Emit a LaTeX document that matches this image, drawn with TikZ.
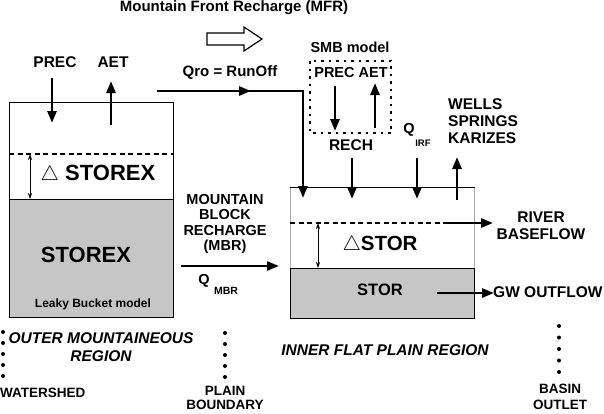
\documentclass[tikz,border=0pt]{standalone}
\usepackage{fontspec}
\setmainfont{Liberation Sans}
\usetikzlibrary{arrows.meta}
\definecolor{grayfill}{RGB}{198,198,198}
\definecolor{sidegray}{RGB}{170,170,170}
\begin{document}
\begin{tikzpicture}[x=1pt,y=-1pt,
  txt/.style={inner sep=0pt, align=center, font=\bfseries\fontsize{#1}{#1}\selectfont},
  txt/.default=14,
  itxt/.style={inner sep=0pt, align=center, font=\bfseries\itshape\fontsize{15.5}{17.5}\selectfont},
  flow/.style={line width=2.6pt, -{Triangle[length=12pt,width=9pt]}},
  dbl/.style={line width=0.8pt, {Stealth[length=6pt,width=4pt]}-{Stealth[length=6pt,width=4pt]}},
  grayblock/.style={fill=grayfill, draw=black, line width=1pt},
  dashline/.style={line width=1.2pt, dash pattern=on 5pt off 3.5pt},
  dotbox/.style={line width=2.6pt, dash pattern=on 2.5pt off 5pt},
  bdot/.style={fill=black},
]
\useasboundingbox (0,0) rectangle (604,413);

% ---------- left bucket ----------
\fill[grayfill] (9,199) rectangle (173,317);
\draw[line width=1pt] (9,102) rectangle (173,317);
\draw[line width=1pt] (9,199) -- (173,199);
\draw[dashline] (9,154) -- (173,154);
\coordinate (lt) at (30,154);
\coordinate (lb) at (30,199);
\draw[dbl] (lt) -- (lb);

\node[txt=15.5] (prec) at (55,62) {PREC};
\node[txt=15.5] (aet) at (113,62) {AET};
\coordinate (precA) at (52,78);
\coordinate (precB) at (52,123);
\draw[flow] (precA) -- (precB);
\coordinate (aetA) at (111,125);
\coordinate (aetB) at (111,81);
\draw[flow] (aetA) -- (aetB);

\node[txt=22] (dstorex) at (98,175) {$\triangle$ STOREX};
\node[txt=22] (storex) at (86,255) {STOREX};
\node[txt=12] (leaky) at (93,304) {Leaky Bucket model};

% ---------- MFR ----------
\node[txt=15] (mfr) at (234,8) {Mountain Front Recharge (MFR)};
\draw[line width=1.2pt, line join=miter] (207,33) -- (244,33) -- (244,27) -- (262,39) -- (244,51) -- (244,45) -- (207,45) -- cycle;

% ---------- runoff ----------
\node[txt=15] (qro) at (230,73) {Qro = RunOff};
\coordinate (roA) at (157,91);
\coordinate (roM) at (251,91);
\coordinate (roC) at (303,91);
\coordinate (roB) at (303,198);
\draw[flow] (roA) -- (roM);
\draw[flow] (240,91) -- (roC) -- (roB);

% ---------- SMB model ----------
\node[txt=14.5] (smb) at (350,47) {SMB model};
\draw[dotbox] (310,61) rectangle (391,133);
\node[txt=14.5] (smbpa) at (351,73) {PREC AET};
\coordinate (smbA) at (335,86);
\coordinate (smbB) at (335,131);
\draw[flow] (smbA) -- (smbB);
\coordinate (smbC) at (375,128);
\coordinate (smbD) at (375,83);
\draw[flow] (smbC) -- (smbD);

\node[txt=15.5] (rech) at (351,145) {RECH};
\coordinate (rechA) at (352,158);
\coordinate (rechB) at (352,199);
\draw[flow] (rechA) -- (rechB);

\node[txt=14.5] (qirf) at (409,130) {Q};
\node[txt=9.5] (irf) at (423,143) {IRF};
\coordinate (irfA) at (417,158);
\coordinate (irfB) at (417,199);
\draw[flow] (irfA) -- (irfB);

\coordinate (wA) at (457,200);
\coordinate (wB) at (457,157);
\draw[flow] (wA) -- (wB);
\node[txt=15.5, anchor=west, align=left] (wells) at (448,104) {WELLS};
\node[txt=15.5, anchor=west, align=left] (springs) at (448,121) {SPRINGS};
\node[txt=15.5, anchor=west, align=left] (karizes) at (448,138) {KARIZES};

% ---------- right reservoir ----------
\draw[sidegray, line width=0.8pt] (290,187) -- (290,268);
\draw[sidegray, line width=0.8pt] (474,187) -- (474,268);
\draw[line width=1pt] (289.5,187) -- (474.5,187);
\draw[grayblock] (290,268) rectangle (474,318);
\draw[dashline] (290,223) -- (450,223);
\coordinate (rvA) at (446,223);
\coordinate (rvB) at (493,223);
\draw[flow] (rvA) -- (rvB);
\node[txt=15.5] (river) at (541,217) {RIVER};
\node[txt=15.5] (baseflow) at (541,234) {BASEFLOW};

\coordinate (rt) at (318,223);
\coordinate (rb) at (318,268);
\draw[dbl] (rt) -- (rb);
\node[txt=20.5] (dstor) at (380,245) {$\triangle$STOR};
\node[txt=16.5] (stor) at (380,290) {STOR};

\coordinate (gwA) at (437,293);
\coordinate (gwB) at (494,293);
\draw[flow] (gwA) -- (gwB);
\node[txt=15.5, anchor=west] (gwout) at (493,292) {GW OUTFLOW};

% ---------- MBR ----------
\node[txt=14.5] (mbr) at (225,224) {MOUNTAIN\\[1pt]BLOCK\\[1pt]RECHARGE\\[1pt](MBR)};
\coordinate (mbrA) at (181,266);
\coordinate (mbrB) at (279,266);
\draw[flow] (mbrA) -- (mbrB);
\node[txt=14.5] (qmbr) at (204,281) {Q};
\node[txt=10.5] (mbrsub) at (226,291) {MBR};

% ---------- boundaries ----------
\foreach \yy in {332,343,354,365,376} \fill[bdot] (3,\yy) circle (2);
\foreach \yy in {333,344,355,366,377} \fill[bdot] (225,\yy) circle (2);
\foreach \yy in {326,337.5,349,360.5,372} \fill[bdot] (559,\yy) circle (2);

\node[itxt] (outer) at (101,347) {OUTER MOUNTAINEOUS\\REGION};
\node[itxt] (inner) at (385,350) {INNER FLAT PLAIN REGION};

\node[txt=13.5, anchor=west] (watershed) at (0,393) {WATERSHED};
\node[txt=13.5] (plain) at (225,398) {PLAIN\\[1pt]BOUNDARY};
\node[txt=13.5] (basin) at (560,397) {BASIN\\[2pt]OUTLET};
\end{tikzpicture}
\end{document}
